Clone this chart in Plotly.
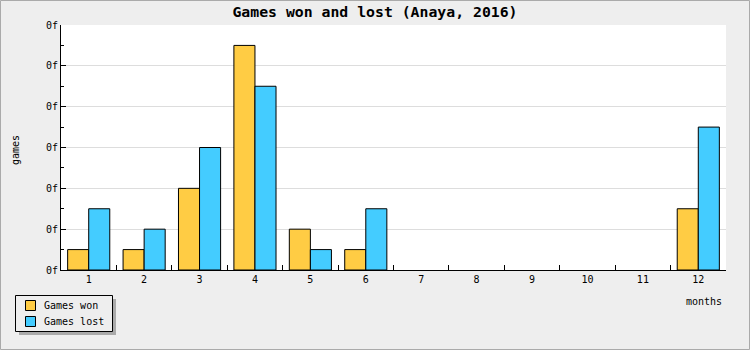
import plotly.graph_objects as go

months = [str(m) for m in range(1, 13)]
games_won = [1, 1, 4, 11, 2, 1, 0, 0, 0, 0, 0, 3]
games_lost = [3, 2, 6, 9, 1, 3, 0, 0, 0, 0, 0, 7]
series_names = ["Games won", "Games lost"]
series_colors = ["#ffcc44", "#44ccff"]
y_ticks = [0, 2, 4, 6, 8, 10, 12]
y_tick_labels = ["0f"] * len(y_ticks)

W, H = 750, 350
L, R, T, B = 61, 24, 25, 80
PW, PH = W - L - R, H - T - B

def px_x(p):
    return (p - L) / PW

def px_y(p):
    return (H - B - p) / PH

FONT = "DejaVu Sans Mono"

fig = go.Figure()
for name, vals, col in zip(series_names, [games_won, games_lost], series_colors):
    fig.add_trace(go.Bar(x=months, y=vals, name=name,
                         marker=dict(color=col,
                                     line=dict(color="black",
                                               width=[1 if v > 0 else 0 for v in vals]))))

shapes = [
    # legend shadow
    dict(type="rect", xref="paper", yref="paper",
         x0=px_x(19), x1=px_x(116), y0=px_y(299), y1=px_y(335),
         fillcolor="#aaaaaa", line=dict(width=0), layer="above"),
    # legend box
    dict(type="rect", xref="paper", yref="paper",
         x0=px_x(15.5), x1=px_x(112.5), y0=px_y(295.5), y1=px_y(331.5),
         fillcolor="#eeeeee", line=dict(color="black", width=1), layer="above"),
    # outer border
    dict(type="rect", xref="paper", yref="paper",
         x0=px_x(0.5), x1=px_x(W - 0.5), y0=px_y(H - 0.5), y1=px_y(0.5),
         line=dict(color="#aaaaaa", width=1), fillcolor="rgba(0,0,0,0)", layer="above"),
]
annotations = [
    dict(text="games", textangle=-90, xref="paper", yref="paper",
         x=px_x(15), y=px_y(150), showarrow=False, xanchor="center", yanchor="middle",
         font=dict(family=FONT, size=10)),
    dict(text="months", xref="paper", yref="paper",
         x=px_x(724), y=px_y(301), showarrow=False, xanchor="right", yanchor="middle",
         font=dict(family=FONT, size=10)),
]
for i, (name, col) in enumerate(zip(series_names, series_colors)):
    yc = 305.5 + 16 * i
    shapes.append(dict(type="rect", xref="paper", yref="paper",
                       x0=px_x(25.5), x1=px_x(35.5), y0=px_y(yc + 5), y1=px_y(yc - 5),
                       fillcolor=col, line=dict(color="black", width=1), layer="above"))
    annotations.append(dict(text=name, xref="paper", yref="paper",
                            x=px_x(42), y=px_y(yc), showarrow=False,
                            xanchor="left", yanchor="middle",
                            font=dict(family=FONT, size=10)))

fig.update_layout(
    width=W, height=H,
    margin=dict(l=L, r=R, t=T, b=B, autoexpand=False),
    paper_bgcolor="#eeeeee", plot_bgcolor="white",
    barmode="group", bargap=0.24, bargroupgap=0,
    font=dict(family=FONT, size=10, color="black"),
    title=dict(text="<b>Games won and lost (Anaya, 2016)</b>", x=0.5, xref="container",
               xanchor="center", y=1 - 12 / H, yref="container", yanchor="middle",
               font=dict(family=FONT, size=14.8, color="black")),
    showlegend=False,
    xaxis=dict(type="category", showline=True, linecolor="black", linewidth=1,
               ticks="inside", ticklen=5, tickcolor="black", tickson="boundaries",
               showgrid=False, fixedrange=True, automargin=False),
    yaxis=dict(range=[0, 12], tickvals=y_ticks, ticktext=y_tick_labels,
               showline=True, linecolor="black", linewidth=1,
               ticks="inside", ticklen=5, tickcolor="black",
               showgrid=True, gridcolor="#dddddd", zeroline=False,
               minor=dict(dtick=1, tick0=0, ticks="inside", ticklen=3, tickcolor="black", showgrid=False),
               fixedrange=True, automargin=False),
    shapes=shapes,
    annotations=annotations,
)

fig.write_html("out.html")
